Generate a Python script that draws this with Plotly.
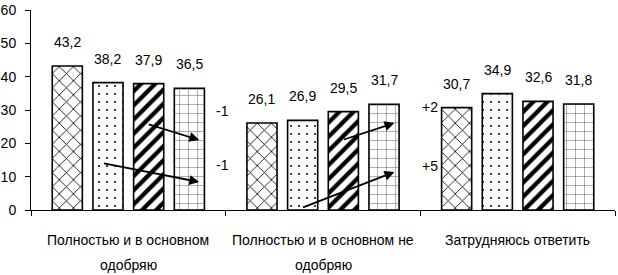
import plotly.graph_objects as go

# ---- data ----
categories = ["Полностью и в основном одобряю",
              "Полностью и в основном не одобряю",
              "Затрудняюсь ответить"]
cat_line1 = ["Полностью и в основном", "Полностью и в основном не", "Затрудняюсь ответить"]
cat_line2 = ["одобряю", "одобряю", ""]

series_names = ["Серия 1", "Серия 2", "Серия 3", "Серия 4"]
series_1 = [43.2, 26.1, 30.7]
series_2 = [38.2, 26.9, 34.9]
series_3 = [37.9, 29.5, 32.6]
series_4 = [36.5, 31.7, 31.8]
all_series = [series_1, series_2, series_3, series_4]

y_ticks = [0, 10, 20, 30, 40, 50, 60]

# change notes: (category position, value level, text)
change_labels = [(0.485, 29.8, "-1"), (0.485, 13.5, "-1"),
                 (1.551, 30.8, "+2"), (1.551, 13.2, "+5")]
# arrows: (from x, from y, to x, to y) in category / value units
arrows = [(0.097, 25.8, 0.364, 21.0), (-0.133, 14.1, 0.364, 8.4),
          (1.10, 21.0, 1.367, 26.1), (0.89, 0.6, 1.367, 11.4)]

# ---- styles ----
FONT = "Liberation Sans, Arial, sans-serif"
patterns = [
    dict(shape="x", size=10, solidity=0.16, fgcolor="black", bgcolor="white", fillmode="replace"),
    dict(shape=".", size=8, solidity=0.05, fgcolor="black", bgcolor="white", fillmode="replace"),
    dict(shape="/", size=10, solidity=0.42, fgcolor="black", bgcolor="white", fillmode="replace"),
    dict(shape="+", size=9, solidity=0.1, fgcolor="#555555", bgcolor="white", fillmode="replace"),
]

bargap = 0.164
bargroupgap = 0.26
n = len(all_series)
slot = (1 - bargap) / n

fig = go.Figure()
for i, (name, vals) in enumerate(zip(series_names, all_series)):
    fig.add_trace(go.Bar(
        x=categories, y=vals, name=name,
        marker=dict(color="white", line=dict(color="black", width=1.6), pattern=patterns[i]),
        showlegend=False, hoverinfo="skip"))

annotations = []
# value labels above bars
for i, vals in enumerate(all_series):
    off = (i - (n - 1) / 2) * slot
    for j, v in enumerate(vals):
        annotations.append(dict(
            x=j + off, y=v, xref="x", yref="y",
            text=f"{v:.1f}".replace(".", ","), showarrow=False,
            yanchor="middle", yshift=24,
            font=dict(family=FONT, size=14, color="black")))

# category labels (two lines)
for j in range(len(categories)):
    annotations.append(dict(x=j, y=0, xref="x", yref="paper", text=cat_line1[j],
                            showarrow=False, yanchor="middle", yshift=-29.5,
                            font=dict(family=FONT, size=14, color="black")))
    if cat_line2[j]:
        annotations.append(dict(x=j, y=0, xref="x", yref="paper", text=cat_line2[j],
                                showarrow=False, yanchor="middle", yshift=-55,
                                font=dict(family=FONT, size=14, color="black")))

for (x, y, t) in change_labels:
    annotations.append(dict(x=x, y=y, xref="x", yref="y", text=t, showarrow=False,
                            font=dict(family=FONT, size=14, color="black")))

for (x0, y0, x1, y1) in arrows:
    annotations.append(dict(x=x1, y=y1, ax=x0, ay=y0, xref="x", yref="y",
                            axref="x", ayref="y", text="", showarrow=True,
                            arrowhead=2, arrowsize=1.1, arrowwidth=1.8,
                            arrowcolor="black", standoff=0))

fig.update_layout(
    width=618, height=275,
    margin=dict(l=31, r=3, t=10, b=65),
    paper_bgcolor="white", plot_bgcolor="white",
    barmode="group", bargap=bargap, bargroupgap=bargroupgap,
    font=dict(family=FONT, size=13, color="black"),
    annotations=annotations,
    xaxis=dict(type="category", showticklabels=False, ticks="outside", tickson="boundaries",
               ticklen=5, tickwidth=1, tickcolor="black", showline=True, linecolor="black",
               linewidth=1, showgrid=False, zeroline=False, range=[-0.5, 2.5],
               automargin=False),
    yaxis=dict(range=[0, 60], tickvals=y_ticks, ticks="outside", ticklen=5, tickwidth=1,
               tickcolor="black", showline=True, linecolor="black", linewidth=1,
               showgrid=False, zeroline=False, ticklabelstandoff=6, automargin=False,
               tickfont=dict(family=FONT, size=14, color="black")),
)

fig.write_html("out.html", config={"displayModeBar": False},
               post_script="document.body.style.margin='0';document.body.style.overflow='hidden';")
